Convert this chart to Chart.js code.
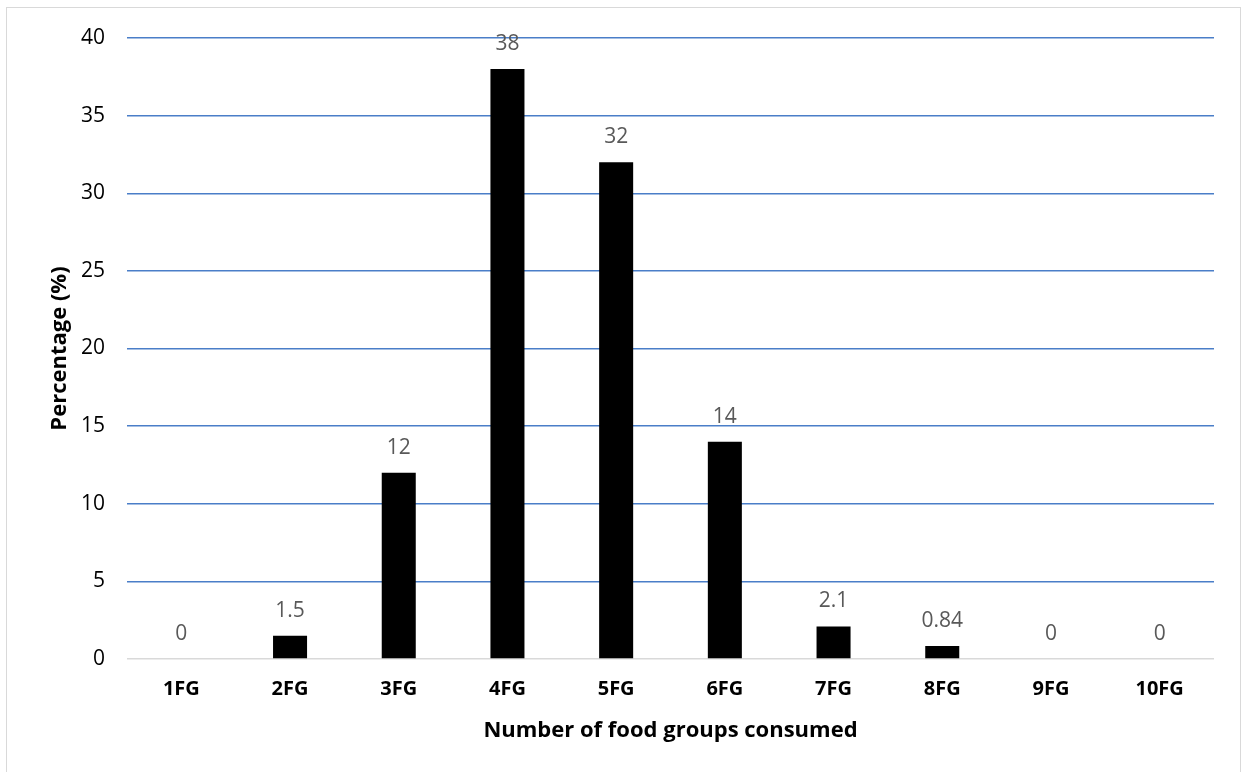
<!DOCTYPE html>
<html lang="en">
<head>
<meta charset="UTF-8">
<title>Food groups consumed</title>
<script src="https://cdn.jsdelivr.net/npm/chart.js"></script>
<style>
    html, body {
        margin: 0;
        padding: 0;
        background: #fff;
        overflow: hidden;
    }
    #frame {
        position: absolute;
        left: 6px;
        top: 7px;
        width: 1235px;
        height: 820px;
        border: 1px solid #d9d9d9;
        box-sizing: border-box;
    }
    #wrap {
        position: absolute;
        left: 0;
        top: 0;
        width: 1248px;
        height: 772px;
    }
</style>
</head>
<body>
<div id="frame"></div>
<div id="wrap"><canvas id="fgChart" width="1248" height="772"></canvas></div>

<script>
    const categories = ['1FG', '2FG', '3FG', '4FG', '5FG', '6FG', '7FG', '8FG', '9FG', '10FG'];
    const percentages = [0, 1.5, 12, 38, 32, 14, 2.1, 0.84, 0, 0];
    const yTicks = [0, 5, 10, 15, 20, 25, 30, 35, 40];

    const fontFamily = '"Open Sans", sans-serif';

    // writes each bar's value above it
    const valueLabels = {
        id: 'valueLabels',
        afterDatasetsDraw(chart) {
            const ctx = chart.ctx;
            const meta = chart.getDatasetMeta(0);
            ctx.save();
            ctx.font = '21px ' + fontFamily;
            ctx.fillStyle = '#595959';
            ctx.textAlign = 'center';
            ctx.textBaseline = 'middle';
            meta.data.forEach((bar, i) => {
                ctx.fillText(String(percentages[i]), bar.x, bar.y - 25);
            });
            ctx.restore();
        }
    };

    new Chart(document.getElementById('fgChart'), {
        type: 'bar',
        data: {
            labels: categories,
            datasets: [{
                data: percentages,
                backgroundColor: '#000000',
                borderWidth: 0,
                barPercentage: 1,
                categoryPercentage: 0.313
            }]
        },
        options: {
            responsive: false,
            animation: false,
            layout: {
                padding: { left: 47, right: 34, top: 38, bottom: 24 }
            },
            plugins: {
                legend: { display: false },
                tooltip: { enabled: false }
            },
            scales: {
                x: {
                    grid: { display: false },
                    border: { display: false },
                    ticks: {
                        color: '#000',
                        padding: 10,
                        font: { family: fontFamily, size: 20, weight: 'bold' }
                    },
                    title: {
                        display: true,
                        text: 'Number of food groups consumed',
                        color: '#000',
                        padding: { top: 12 },
                        font: { family: fontFamily, size: 22, weight: 'bold' }
                    },
                    afterFit(scale) { scale.height = 89; }
                },
                y: {
                    min: 0,
                    max: 40,
                    afterBuildTicks(scale) {
                        scale.ticks = yTicks.map(v => ({ value: v }));
                    },
                    border: { display: false },
                    grid: {
                        drawTicks: false,
                        lineWidth: 1.5,
                        color: ctx => ctx.tick && ctx.tick.value === 0 ? '#d9d9d9' : '#4a7ec8'
                    },
                    ticks: {
                        color: '#000',
                        padding: 22,
                        font: { family: fontFamily, size: 21 }
                    },
                    title: {
                        display: true,
                        text: 'Percentage (%)',
                        color: '#000',
                        padding: { top: 0, bottom: 0 },
                        font: { family: fontFamily, size: 22, weight: 'bold' }
                    },
                    afterFit(scale) { scale.width = 80; }
                }
            }
        },
        plugins: [valueLabels]
    });
</script>
</body>
</html>
